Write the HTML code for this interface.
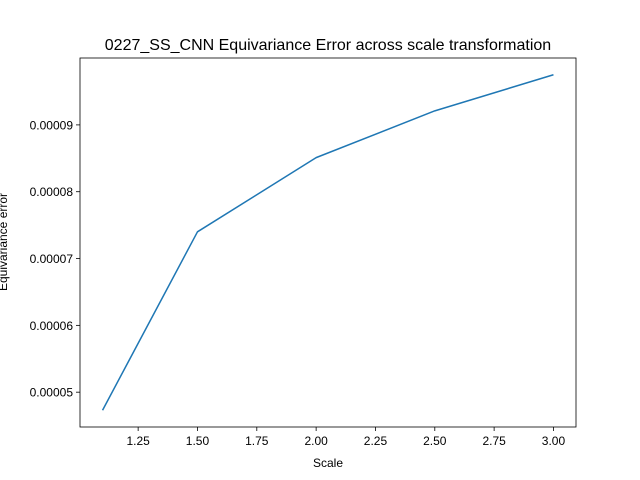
<!DOCTYPE html>
<html><head><meta charset="utf-8"><style>
body{margin:0;background:#fff}
svg{display:block;font-family:"Liberation Sans","DejaVu Sans",sans-serif}
</style></head><body>
<svg id="chart" width="640" height="480" viewBox="0 0 640 480"></svg>
<script>
const scales = [1.1, 1.5, 2.0, 2.5, 3.0];
const errors = [0.0000473, 0.0000740, 0.0000851, 0.0000921, 0.0000975];
const xTicks = [1.25, 1.5, 1.75, 2.0, 2.25, 2.5, 2.75, 3.0];
const xTickLabels = ["1.25","1.50","1.75","2.00","2.25","2.50","2.75","3.00"];
const yTicks = [0.00005, 0.00006, 0.00007, 0.00008, 0.00009];
const yTickLabels = ["0.00005","0.00006","0.00007","0.00008","0.00009"];

const svg = document.getElementById('chart');
const NS = 'http://www.w3.org/2000/svg';
const L = 80, R = 576, T = 58, B = 427;
const xmin0 = Math.min(...scales), xmax0 = Math.max(...scales);
const ymin0 = Math.min(...errors), ymax0 = Math.max(...errors);
const xm = (xmax0 - xmin0) * 0.05, ym = (ymax0 - ymin0) * 0.05;
const xmin = xmin0 - xm, xmax = xmax0 + xm, ymin = ymin0 - ym, ymax = ymax0 + ym;
const X = v => L + (v - xmin) / (xmax - xmin) * (R - L);
const Y = v => B - (v - ymin) / (ymax - ymin) * (B - T);
function mk(tag, attrs, text) {
  const e = document.createElementNS(NS, tag);
  for (const k in attrs) e.setAttribute(k, attrs[k]);
  if (text !== undefined) e.textContent = text;
  svg.appendChild(e);
  return e;
}
let e;
e = mk('text', {x: 328, y: 50, 'text-anchor': 'middle', 'font-size': 16}, '0227_SS_CNN Equivariance Error across scale transformation');



xTicks.forEach((t, i) => {
  const x = X(t);
  e = mk('line', {x1: x, x2: x, y1: B, y2: B + 4, stroke: '#000', 'stroke-width': 0.8});
  
  
  e = mk('text', {x: x, y: B + 18, 'text-anchor': 'middle', 'font-size': 12}, xTickLabels[i]);
  
  
});
yTicks.forEach((t, i) => {
  const y = Y(t);
  e = mk('line', {x1: L - 4, x2: L, y1: y, y2: y, stroke: '#000', 'stroke-width': 0.8});
  
  
  e = mk('text', {x: L - 7, y: y + 4.5, 'text-anchor': 'end', 'font-size': 12}, yTickLabels[i]);
  
  
});
e = mk('text', {x: 328, y: 467, 'text-anchor': 'middle', 'font-size': 12}, 'Scale');


e = mk('text', {x: 0, y: 0, 'text-anchor': 'middle', 'font-size': 12, transform: 'translate(7,242) rotate(-90)'}, 'Equivariance error');



e = mk('polyline', {points: scales.map((s, i) => X(s) + ',' + Y(errors[i])).join(' '), fill: 'none', stroke: '#1f77b4', 'stroke-width': 1.5, 'stroke-linejoin': 'round'});



e = mk('rect', {x: L, y: T, width: R - L, height: B - T, fill: 'none', stroke: '#000', 'stroke-width': 0.8});


</script>
</body></html>
